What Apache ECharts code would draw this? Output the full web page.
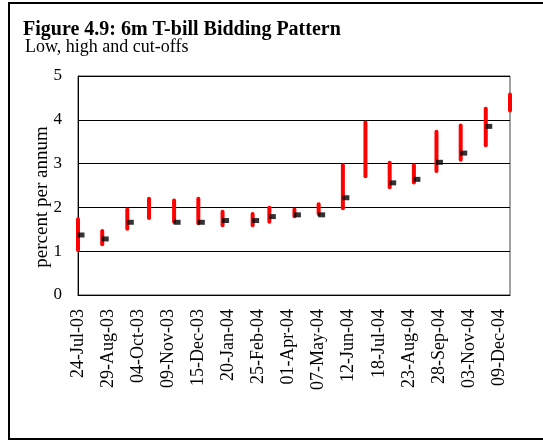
<!DOCTYPE html>
<html>
<head>
<meta charset="utf-8">
<script src="https://cdn.jsdelivr.net/npm/echarts@6/dist/echarts.min.js"></script>
<style>html,body{margin:0;padding:0;background:#fff;}#c{width:543px;height:440px;}</style>
</head>
<body>
<div id="c"></div>
<script>
// Auction dates (yyyy-mm-dd)
var auctionDates = ['2003-07-24','2003-08-22','2003-09-21','2003-10-17','2003-11-16','2003-12-15',
  '2004-01-13','2004-02-18','2004-03-09','2004-04-08','2004-05-07','2004-06-05','2004-07-02',
  '2004-07-31','2004-08-29','2004-09-25','2004-10-24','2004-11-23','2004-12-22'];
// Low bids, high bids, cut-offs (percent per annum)
var lowBids  = [1.03,1.16,1.51,1.76,1.67,1.64,1.59,1.59,1.67,1.80,1.85,1.98,2.71,2.46,2.57,2.83,3.09,3.42,4.21];
var highBids = [1.73,1.46,1.95,2.20,2.16,2.20,1.90,1.85,1.99,1.95,2.07,2.96,3.94,3.02,2.96,3.73,3.87,4.25,4.58];
var cutOffs  = [1.37,1.28,1.66,null,1.66,1.66,1.70,1.70,1.79,1.83,1.83,2.22,null,2.56,2.64,3.03,3.24,3.85,null];
// x-axis tick labels (every 36 days from 24-Jul-03)
var tickLabels = ['24-Jul-03','29-Aug-03','04-Oct-03','09-Nov-03','15-Dec-03','20-Jan-04','25-Feb-04',
  '01-Apr-04','07-May-04','12-Jun-04','18-Jul-04','23-Aug-04','28-Sep-04','03-Nov-04','09-Dec-04'];
var yTicks = [0,1,2,3,4,5];

var FONT = "'Liberation Serif','Times New Roman',serif";
var DAY = 86400000;
function toMs(s){var p=s.split('-');return Date.UTC(+p[0],+p[1]-1,+p[2]);}
var t0 = toMs(auctionDates[0]);
var dayNums = auctionDates.map(function(d){return Math.round((toMs(d)-t0)/DAY);});
var rangeData = dayNums.map(function(x,i){return [x,lowBids[i],highBids[i]];});
var cutData = [];
dayNums.forEach(function(x,i){ if(cutOffs[i]!==null) cutData.push([x,cutOffs[i]]); });

var chart = echarts.init(document.getElementById('c'));
chart.setOption({
  animation:false,
  backgroundColor:'#fff',
  graphic:[
    {type:'rect',shape:{x:9,y:3,width:540,height:436},style:{fill:'none',stroke:'#000',lineWidth:2},z:-1},
    {type:'text',left:23,top:20,style:{text:'Figure 4.9: 6m T-bill Bidding Pattern',font:'bold 20px '+FONT,fill:'#000'}},
    {type:'text',left:25,top:38,style:{text:'Low, high and cut-offs',font:'18px '+FONT,fill:'#000'}},
    {type:'text',x:42,y:197,rotation:Math.PI/2,style:{text:'percent per annum',font:'19px '+FONT,fill:'#000',align:'center',verticalAlign:'middle'}}
  ],
  grid:{left:78,right:33,top:76,bottom:145,show:true,borderColor:'#444',borderWidth:1,backgroundColor:'transparent'},
  xAxis:{
    type:'value',min:0,max:dayNums[dayNums.length-1],interval:36,
    axisLine:{show:true,onZero:false,lineStyle:{color:'#000',width:1}},
    axisTick:{show:false},splitLine:{show:false},
    axisLabel:{rotate:90,margin:14,fontFamily:FONT,fontSize:18,color:'#000',showMaxLabel:false,
      formatter:function(v){ if(v%36!==0) return ''; var k=v/36; return tickLabels[k]||''; }}
  },
  yAxis:{
    type:'value',min:yTicks[0],max:yTicks[yTicks.length-1],interval:1,
    axisLine:{show:true,lineStyle:{color:'#000',width:1}},
    axisTick:{show:false},
    splitLine:{show:true,lineStyle:{color:'#000',width:1}},
    axisLabel:{margin:16,fontFamily:FONT,fontSize:17,color:'#000'}
  },
  series:[
    {type:'custom',clip:false,data:rangeData,encode:{x:0,y:[1,2]},
     renderItem:function(params,api){
       var lo=api.coord([api.value(0),api.value(1)]);
       var hi=api.coord([api.value(0),api.value(2)]);
       return {type:'line',shape:{x1:lo[0],y1:lo[1],x2:hi[0],y2:hi[1]},
         style:{stroke:'#ff0000',lineWidth:4,lineCap:'round'}};
     }, z:2},
    {type:'scatter',data:cutData,symbol:'rect',symbolSize:[7,5],symbolOffset:[3,0],
     itemStyle:{color:'#000'},clip:false,z:3}
  ]
});
</script>
</body>
</html>
